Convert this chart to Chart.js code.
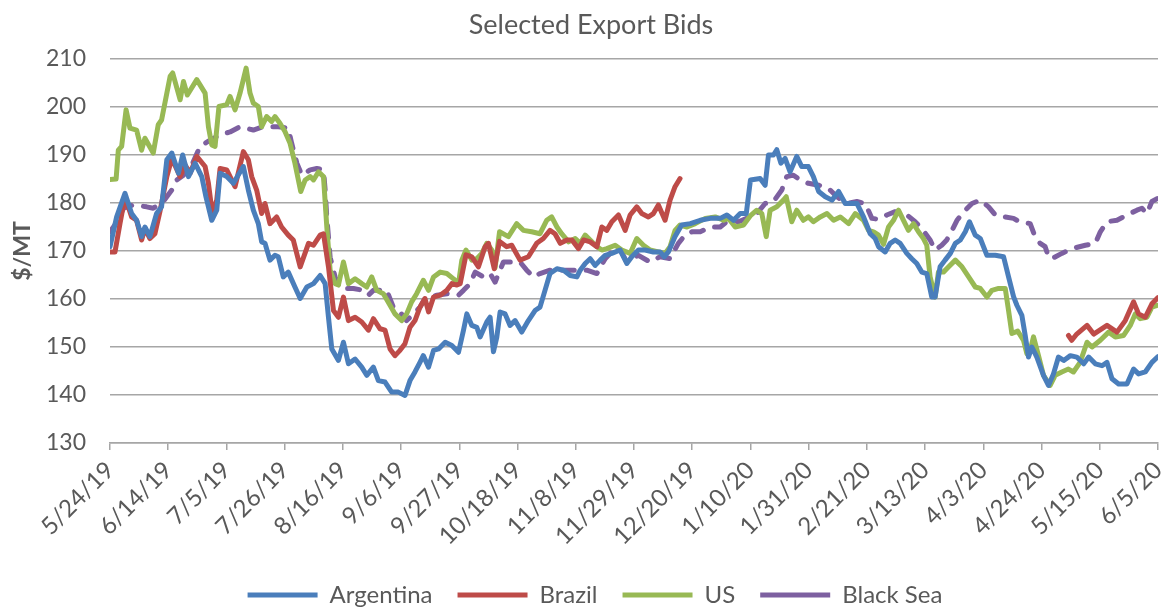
<!DOCTYPE html>
<html>
<head>
<meta charset="utf-8">
<title>Selected Export Bids</title>
<script src="https://cdn.jsdelivr.net/npm/chart.js@4.4.1/dist/chart.umd.min.js"></script>
<style>
  html, body { margin: 0; padding: 0; background: #fff; }
  #wrap { width: 1162px; height: 607px; }
</style>
</head>
<body>
<div id="wrap"><canvas id="bidsChart" width="1162" height="607"></canvas></div>
<script>
// x values are days after 5/24/19
const tickLabels = ['5/24/19', '6/14/19', '7/5/19', '7/26/19', '8/16/19', '9/6/19', '9/27/19',
    '10/18/19', '11/8/19', '11/29/19', '12/20/19', '1/10/20', '1/31/20', '2/21/20', '3/13/20',
    '4/3/20', '4/24/20', '5/15/20', '6/5/20'];

const argDays = [0, 2.4, 5.4, 7.8, 9.6, 11.4, 12.6, 14.4, 16.8, 18.6, 20.5, 22.3, 24.7, 26.2, 28.3, 30.7, 33.1, 34.6, 36.7, 38.5, 39.7, 42.1,
    44.5, 48.1, 49.9, 51.7, 53.5, 54.7, 55.9, 57.7, 59.5, 60.7, 62.5, 64.3, 66.7, 68.6, 71, 73.4, 75.8, 77.6, 78.8, 80, 82.4, 84.2, 86, 88.4, 90.8,
    92.6, 95, 96.8, 99.2, 101.6, 104, 106.4, 108.2, 110, 111.8, 113, 114.9, 116.7, 118.5, 120.9, 123.3, 125.7, 127.5, 128.7, 130.5, 132.3, 133.5, 135.9,
    137.1, 138.3, 139.5, 140.7, 142.5, 144.3, 146.1, 148.5, 150.9, 153.3, 155.1, 156.9, 158.7, 161.2, 163.6, 166, 168.4, 169.6, 171.4, 173.2, 175, 176.8, 178.6, 181, 184,
    186.4, 188.2, 190.6, 193, 196, 198.4, 199.9, 201.4, 203.8, 206.2, 209.3, 212.9, 216.5, 220.1, 222.5, 224.9, 227.3, 229.5, 231,
    234.5, 236.3, 237.5, 239.3, 240.5, 242, 243.5, 245.3, 247.7, 249.5, 251.9, 253.7, 255.6, 258, 260.4, 262.8, 265.2, 267.6, 269.4, 271.8, 274.2, 276, 277.2,
    279.6, 281.4, 283.2, 285, 287.4, 289.2, 291, 292.8, 294.6, 296.4, 297.6, 299.4, 301.2, 303.1, 304.9, 306.7, 308.5, 310, 312.1, 313.9, 316.3, 319.3, 322.3, 324.1,
    325.9, 327.1, 328.9, 330.1, 331.3, 332.5, 334.3, 336.7, 338.5, 340.3, 342.1, 344, 346.4, 348.7, 351.2, 353, 355.4, 357.8, 359.6, 361.4, 363.8, 366.8, 369.2, 371, 373.4, 375.8, 378];
const argVals = [170.9, 177.1, 182, 177.8, 176.4, 173, 175, 173, 177.8, 179.2, 189, 190.4, 186.2, 190, 185.5, 188.3, 185.5, 181.3, 176.4, 178.5, 186.2, 185.5,
    184.1, 187.6, 182.7, 178.5, 175.7, 171.9, 171.6, 168.1, 169.1, 168.8, 164.6, 165.6, 162.5, 160.1, 162.5, 163.2, 164.9, 163.2, 156.2, 149.6, 147.2, 151, 146.5, 147.5, 145.8,
    144.1, 145.8, 143, 142.7, 140.6, 140.6, 139.9, 143, 144.8, 146.8, 148.2, 145.8, 149.3, 149.6, 151, 150.3, 148.9, 153.5, 156.9, 154.5, 154.1, 152.1, 155.2,
    156.2, 149, 152, 157.3, 156.9, 154.5, 155.5, 153.1, 155.5, 157.6, 158.3, 161.8, 165.3, 166.3, 166, 164.9, 164.6, 166, 167.4, 168.4, 167, 168.1, 169.1, 169.5, 170.2,
    167.4, 168.8, 170.2, 170.2, 169.8, 169.8, 168.8, 169.8, 173, 175.4, 175.7, 176.4, 176.8, 176.8, 177.5, 176.4, 177.8, 177.8, 184.8,
    185.1, 183.7, 190, 190, 191.1, 188.3, 189.3, 186.5, 189.7, 187.6, 187.6, 185.5, 182.4, 181.3, 180.6, 182.4, 179.9, 179.9, 179.9, 177.1, 173.6, 172.6, 170.9,
    169.8, 171.6, 172.3, 171.6, 169.5, 168.4, 167.4, 165.6, 165.3, 160.4, 160.4, 166.7, 168.1, 169.5, 171.6, 172.3, 174, 176.1, 173.3, 172.6, 169.1, 169.1, 168.8, 164.6,
    160.5, 158.7, 156.6, 152.4, 147.9, 150, 147.9, 144.1, 142, 144.4, 147.9, 147.2, 148.2, 147.9, 146.5, 147.9, 146.5, 146.1, 146.8, 143.4, 142.3, 142.3, 145.4, 144.4, 144.8, 146.8, 148];

// Brazil has no quotes between late Dec and early May (null = gap)
const braDays = [0, 1.8, 3.6, 5.4, 7.8, 9.6, 11.4, 12.6, 14.4, 16.2, 18, 20.5, 22.3, 25.3, 27.1, 28.9, 31.3, 34.3, 35.5, 36.9, 38.5, 39.7, 42.1,
    45.1, 48.1, 49.9, 51.1, 52.9, 54.7, 55.9, 57.7, 60.1, 61.9, 64.3, 66.1, 68.6, 71.6, 73.4, 75.8, 77, 78.8, 80.6, 82.4, 84.2, 86, 88.4, 90.8,
    93.2, 95, 97.4, 99.2, 101, 102.8, 104.6, 106.4, 108.2, 110, 111.8, 113.6, 114.9, 116.7, 119.1, 121.5, 123.3, 125.1, 126.3, 128.4, 130.5, 132.9, 135.3, 136.5, 138.6, 140.5,
    143.1, 144.9, 147.9, 150.9, 153.9, 156.3, 158.7, 160.5, 162.4, 164.8, 166.6, 169, 170.8, 173.2, 175.6, 177.4, 179.2, 181, 183.4, 185.8, 187.6,
    190, 191.8, 194.2, 196, 197.8, 200.2, 202, 203.8, 205.6, 270,
    345.7, 346.9, 348.7, 352.4, 354.8, 359.6, 363.2, 366.2, 369.2, 371, 373.4, 375.8, 378];
const braVals = [169.8, 169.8, 175.7, 181.3, 177.1, 176.4, 172.3, 174.7, 172.6, 173.6, 178.2, 185.5, 189.3, 185.5, 187.9, 186.2, 189.7, 187.6, 184.1, 177.8, 180.6, 187.2, 186.9,
    183.4, 190.7, 189, 185.5, 182.7, 177.8, 179.9, 175.7, 177.1, 175, 173.3, 172.3, 166.7, 171.6, 171.2, 173.3, 173.6, 166.7, 157.6, 156.2, 160.4, 155.5, 156.2, 155.2,
    153.5, 155.9, 153.8, 153.5, 149.6, 148.2, 149.3, 150.7, 154.1, 155.5, 158.3, 160.1, 157.3, 160.4, 160.8, 161.8, 163.2, 162.9, 163.2, 169.2, 168.8, 166.7, 170.9, 171.6, 166.3, 172,
    170.9, 171.2, 168.1, 168.8, 171.6, 172.6, 174.3, 173.6, 171.6, 172.3, 172.3, 170.5, 172.3, 171.9, 170.9, 175, 174.3, 176.1, 177.5, 174.3, 177.5,
    179.2, 177.8, 177.1, 177.8, 179.6, 176.4, 180.6, 183.4, 185.1, null,
    152.4, 151.4, 152.7, 154.5, 152.7, 154.5, 153.1, 155.5, 159.4, 156.9, 156.2, 159, 160.3];

const usDays = [0, 2.2, 3, 4.2, 5.8, 7.2, 9.6, 11.4, 12.6, 15.6, 17.4, 18.6, 21.7, 22.6, 25.3, 26.5, 27.9, 31.3, 34.3, 35.5, 36.7, 37.9, 39.3, 42.1,
    43.3, 45.1, 46.9, 49.1, 50.5, 51.7, 53.5, 54.7, 56.5, 58.3, 59.5, 61.3, 63.1, 64.9, 66.7, 68.8, 70.4, 72.2, 73.4, 75.2, 77, 78.2, 79.4, 81.2, 82.4, 84.2, 86, 88.4, 90.8,
    92.6, 94.4, 96.2, 98.6, 101, 102.8, 105.2, 107, 108.8, 110.6, 113, 114.9, 116.7, 119.1, 121.5, 123.9, 125.7, 126.9, 128.4, 130.5, 132.3, 134.1, 135.9, 137.7, 138.9, 140.5,
    143.7, 146.7, 149.1, 152.1, 155.1, 157.5, 159.3, 161.2, 162.9, 165.4, 167.8, 169.6, 171.4, 173.2, 175.6, 177.4, 179.2, 182.2, 184.6, 187.6,
    190, 192.4, 194.8, 197.8, 200.2, 202, 203.8, 205.6, 208.1, 211.1, 214.7, 218.3, 221.3, 223.1, 225.5, 228.5, 230.9,
    233.3, 235.1, 236.7, 238.1, 240.5, 242.9, 243.9, 245.9, 247.7, 250.1, 251.9, 253.7, 256.2, 258.6, 261, 263.4, 266.4, 268.8, 271.8, 273.6, 275.4, 277.2, 279, 280.8,
    282.6, 284.4, 286.2, 288, 289.8, 291.6, 293.4, 294.6, 295.8, 297.6, 298.8, 300.6, 302.5, 304.9, 307.3, 309.7, 312.1, 313.9, 316.3, 318.1, 320.5, 322.9, 324.1, 325.3,
    327.4, 329.5, 330.7, 331.9, 333.1, 334.9, 336.7, 339.1, 340.9, 343.3, 345.7, 347.5, 349.9, 352.4, 354.2, 357.2, 360.2, 362.6, 365.6, 368, 369.8, 371.6, 374, 375.8, 378];
const usVals = [184.9, 185, 191, 191.8, 199.4, 195.6, 195.2, 191, 193.5, 190.4, 196.3, 197.3, 206.4, 207.1, 201.5, 205.3, 202.5, 205.7, 202.9, 195.9, 192.1, 191.8, 200.1, 200.5,
    202.2, 199.4, 202.9, 208.1, 202.9, 200.8, 200.1, 195.9, 198, 197, 198, 196.6, 194.9, 192.5, 188.3, 182.4, 184.8, 185.5, 184.8, 186.5, 185.5, 175, 166, 163.2, 162.9, 167.7, 163.2, 164.2, 163.2,
    162.5, 164.6, 161.8, 161.1, 158.7, 156.9, 155.5, 156.9, 159.4, 161.1, 163.9, 161.8, 164.6, 165.6, 165.3, 164.2, 163.2, 168.1, 170.2, 168.1, 168.4, 169.5, 171.6, 170.2, 166.5, 174,
    173, 175.7, 174.3, 174, 173.6, 176.4, 177.1, 175, 173.6, 171.9, 172.6, 171.6, 173.3, 172.3, 170.9, 170.2, 170.5, 171.2, 170.2, 169.5,
    172.6, 171.2, 170.2, 169.8, 169.5, 170.9, 174.3, 175.4, 175, 175.7, 176.8, 177.1, 176.4, 176.8, 175, 175.4, 177.3,
    178.5, 177.8, 173, 178.5, 179.2, 180.6, 181.3, 176.1, 178.5, 176.4, 177.1, 176.1, 177.1, 177.8, 176.4, 177.1, 175.7, 177.8, 176.4, 174.3, 174, 173.3, 171.4, 175,
    176.4, 178.5, 176.4, 174.3, 175.7, 174, 172.6, 171.2, 164.6, 160.4, 165.6, 165.6, 166.7, 168.1, 166.7, 164.6, 162.5, 162.2, 160.4, 161.8, 162.2, 162.2, 157.6, 152.8,
    153.3, 151.4, 148.6, 149.3, 152.1, 148.2, 144.1, 142, 144.1, 144.8, 145.4, 144.8, 146.8, 151, 150, 151.4, 153.1, 152.1, 152.4, 154.5, 156.9, 155.9, 156.2, 158.3, 158.7];

const bsDays = [0, 3, 4.8, 8.4, 13.2, 15.6, 19.2, 22.3, 24.1, 26.5, 29.5, 32.5, 36.1, 39.7, 43.3, 46.9, 51.7, 55.3, 60.7, 64.3, 65.5, 67.4, 69.2, 72.2, 74.6, 77, 77.6, 78.2, 79.4, 81.2, 83, 87.8, 91.4, 93.2,
    95, 99.8, 102.2, 104.6, 107, 109.4, 111.8, 113.6, 117.9, 121.5, 125.7, 127.5, 129.9, 131.7, 134.7, 137.1, 138.9, 141.9, 147.9, 150.3, 152.7, 155.1, 158.7, 164.8, 172, 175.6, 178.6, 181.6, 184.3,
    186.4, 190.6, 194.8, 198.4, 202, 205, 207.4, 209.9, 212.9, 216.5, 220.1, 223.1, 226.7, 230.3, 233.3, 236.3, 239.3, 242.3, 244.1, 246.5, 248.9, 251.9, 255.6, 259.2, 262.2, 265.8, 269.4, 272.4, 274.8, 277.2,
    280.2, 283.2, 286.8, 290.4, 292.8, 295.8, 297.6, 300, 301.8, 303.7, 305.5, 308.5, 310.9, 313.9, 316.9, 319.3, 322.9, 325.9, 328.3, 331.9, 333.7, 335.5, 337.3, 338.5, 339.7,
    343.3, 347, 351.8, 355.4, 357.2, 359.6, 363.2, 366.8, 370.4, 372.2, 374, 375.8, 378];
const bsVals = [174, 176.4, 178.9, 179.6, 179.2, 178.9, 180.3, 182.7, 184.8, 185.8, 187.9, 191.8, 193.1, 194.2, 194.8, 195.9, 195.2, 195.9, 195.9, 195.6, 192.5, 188.3, 185.8, 186.9, 187.2, 186.9, 182.7, 177.1, 168.7, 164.6, 162.2, 162.2, 161.8, 160.8,
    161.8, 161.8, 158.3, 157.3, 155.5, 156.9, 158.3, 160.1, 160.8, 161.1, 160.8, 161.8, 163.2, 165.6, 164.6, 165.3, 163.5, 167.7, 167.7, 166, 164.6, 165.3, 166, 166, 166, 165.3, 168.4, 170.2, 170,
    167.7, 169.1, 167.7, 168.8, 168.4, 171.6, 173.3, 174, 174, 175, 175, 176.4, 176.1, 177, 177.8, 179.9, 180.3, 182.7, 185.5, 185.8, 184.8, 184.1, 183.7, 183, 181.3, 179.9, 180.3, 179.9, 176.8, 176.6,
    177.5, 178.2, 177.8, 176.1, 174.7, 172.3, 170.2, 171.2, 172.3, 174.3, 176.4, 178.5, 179.9, 180.6, 179.2, 177.5, 177.1, 176.8, 176, 175.7, 172.9, 171.6, 170.9, 168.8, 168.4,
    169.5, 170.5, 171.2, 171.6, 174, 176.1, 176.4, 177.5, 178.5, 178.9, 177.8, 180.3, 181];

const textColor = '#595959';
const gridColor = '#a6a6a6';

function pairs(days, vals) {
    return days.map((d, i) => ({ x: d, y: vals[i] }));
}

function series(label, days, vals, color, dash) {
    return {
        label: label,
        data: pairs(days, vals),
        borderColor: color,
        backgroundColor: color,
        borderWidth: 5,
        borderDash: dash || [],
        borderJoinStyle: 'round',
        borderCapStyle: 'round',
        pointRadius: 0,
        pointHoverRadius: 0,
        tension: 0,
        spanGaps: false,
        fill: false
    };
}

// nudge title and legend sideways to sit where the original has them
const shiftBoxes = {
    id: 'shiftBoxes',
    afterLayout(chart) {
        chart.legend.left += 16;
        chart.legend.right += 16;
        chart.titleBlock.left += 12;
        chart.titleBlock.right += 12;
    }
};

Chart.defaults.font.family = 'Lato, "Open Sans", sans-serif';
Chart.defaults.color = textColor;

const ctx = document.getElementById('bidsChart').getContext('2d');
const bidsChart = new Chart(ctx, {
    type: 'line',
    data: {
        datasets: [
            series('Argentina', argDays, argVals, '#4a7ebb'),
            series('Brazil', braDays, braVals, '#be4b48'),
            series('US', usDays, usVals, '#98b954'),
            series('Black Sea', bsDays, bsVals, '#7d60a0', [12, 12])
        ]
    },
    plugins: [shiftBoxes],
    options: {
        responsive: false,
        animation: false,
        devicePixelRatio: 1,
        layout: {
            padding: { left: 0, right: 4, top: 0, bottom: -10 }
        },
        plugins: {
            title: {
                display: true,
                text: 'Selected Export Bids',
                color: textColor,
                font: { size: 27, weight: 'normal' },
                padding: { top: 9.5, bottom: 17.1 }
            },
            legend: {
                position: 'bottom',
                labels: {
                    usePointStyle: true,
                    pointStyle: 'line',
                    pointStyleWidth: 70,
                    padding: 25,
                    color: textColor,
                    font: { size: 24 }
                }
            },
            tooltip: { enabled: false }
        },
        scales: {
            x: {
                type: 'linear',
                min: 0,
                max: 378,
                border: { display: true, color: gridColor, width: 1.5 },
                grid: {
                    drawOnChartArea: false,
                    drawTicks: true,
                    tickLength: 7,
                    color: gridColor,
                    lineWidth: 1.5
                },
                ticks: {
                    stepSize: 21,
                    autoSkip: false,
                    maxRotation: 45,
                    minRotation: 45,
                    padding: 6,
                    color: textColor,
                    font: { size: 24 },
                    callback: function(value) {
                        return tickLabels[Math.round(value / 21)];
                    }
                },
                afterFit: function(scale) {
                    scale.height = 115;
                    scale.paddingRight = 0;
                    scale.paddingLeft = 0;
                }
            },
            y: {
                min: 130,
                max: 210,
                border: { display: false },
                grid: {
                    color: gridColor,
                    lineWidth: 1.5,
                    drawTicks: false
                },
                ticks: {
                    stepSize: 10,
                    padding: 24,
                    color: textColor,
                    font: { size: 23 }
                },
                title: {
                    display: true,
                    text: '$/MT',
                    color: textColor,
                    font: { size: 23, weight: 'bold' },
                    padding: { top: 9, bottom: 0 }
                },
                afterFit: function(scale) {
                    scale.width = 110;
                }
            }
        }
    }
});
</script>
</body>
</html>
